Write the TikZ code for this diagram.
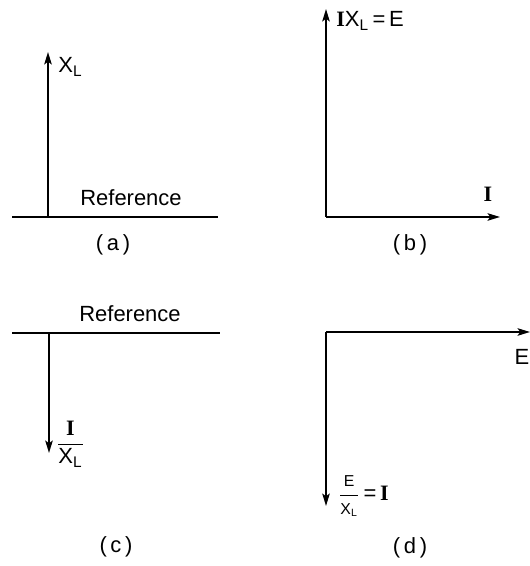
\documentclass[tikz,border=0pt]{standalone}
\usepackage{fontspec}
\setmainfont{Liberation Sans}
\newfontfamily\serifI{Liberation Serif}
\usepackage{amsmath}
\usepackage{tikz}
\usetikzlibrary{arrows.meta}
\newcommand{\Ii}{{\serifI\bfseries I}}
\newcommand{\XL}{X\textsubscript{L}}
\tikzset{
  vec/.style={line width=1.1pt, -{Stealth[length=7pt, width=4.2pt, inset=1.4pt]}},
  refline/.style={line width=1.1pt},
  lbl/.style={font=\fontsize{12.5}{15}\selectfont, inner sep=0pt},
}
\begin{document}
\begin{tikzpicture}
        \useasboundingbox (0,0) rectangle (10.6,11.32);
        % (a) X_L sopra il riferimento
        \coordinate (aL) at (0.24,6.98);
        \coordinate (aR) at (4.36,6.98);
        \coordinate (aO) at (0.96,6.98);
        \coordinate (aT) at (0.96,10.28);
        \draw[refline] (aL) -- (aR);
        \draw[vec] (aO) -- (aT);
        \node[lbl, anchor=base west] (aX) at (1.16,9.86) {\XL};
        \node[lbl, anchor=base] (aRef) at (2.62,7.2) {Reference};
        \node[lbl] (aCap) at (2.26,6.42) {(\,a\,)};
        % (b) IX_L = E e I
        \coordinate (bO) at (6.52,6.98);
        \coordinate (bT) at (6.52,11.14);
        \coordinate (bR) at (10.0,6.98);
        \draw[vec] (bO) -- (bT);
        \draw[vec] (bO) -- (bR);
        \node[lbl, anchor=base west] (bE) at (6.72,10.78) {\Ii\XL\,=\,E};
        \node[lbl, anchor=base] (bI) at (9.76,7.28) {\Ii};
        \node[lbl] (bCap) at (8.2,6.42) {(\,b\,)};
        % (c) I/X_L sotto il riferimento
        \coordinate (cL) at (0.24,4.66);
        \coordinate (cR) at (4.4,4.66);
        \coordinate (cO) at (0.98,4.66);
        \coordinate (cB) at (0.98,2.26);
        \draw[refline] (cL) -- (cR);
        \draw[vec] (cO) -- (cB);
        \node[lbl, anchor=base] (cRef) at (2.6,4.88) {Reference};
        \node[lbl, anchor=west] (cF) at (1.12,2.44) {$\dfrac{\text{\Ii}}{\text{\XL}}$};
        \node[lbl] (cCap) at (2.32,0.38) {(\,c\,)};
        % (d) E e E/X_L = I
        \coordinate (dO) at (6.52,4.68);
        \coordinate (dR) at (10.6,4.68);
        \coordinate (dB) at (6.52,1.2);
        \draw[vec] (dO) -- (dR);
        \draw[vec] (dO) -- (dB);
        \node[lbl] (dE) at (10.44,4.18) {E};
        \node[lbl, anchor=west] (dF) at (6.76,1.4) {$\dfrac{\text{\small E}}{\text{\small\XL}}$\,=\,\Ii};
        \node[lbl] (dCap) at (8.2,0.36) {(\,d\,)};
    \end{tikzpicture}
\end{document}
